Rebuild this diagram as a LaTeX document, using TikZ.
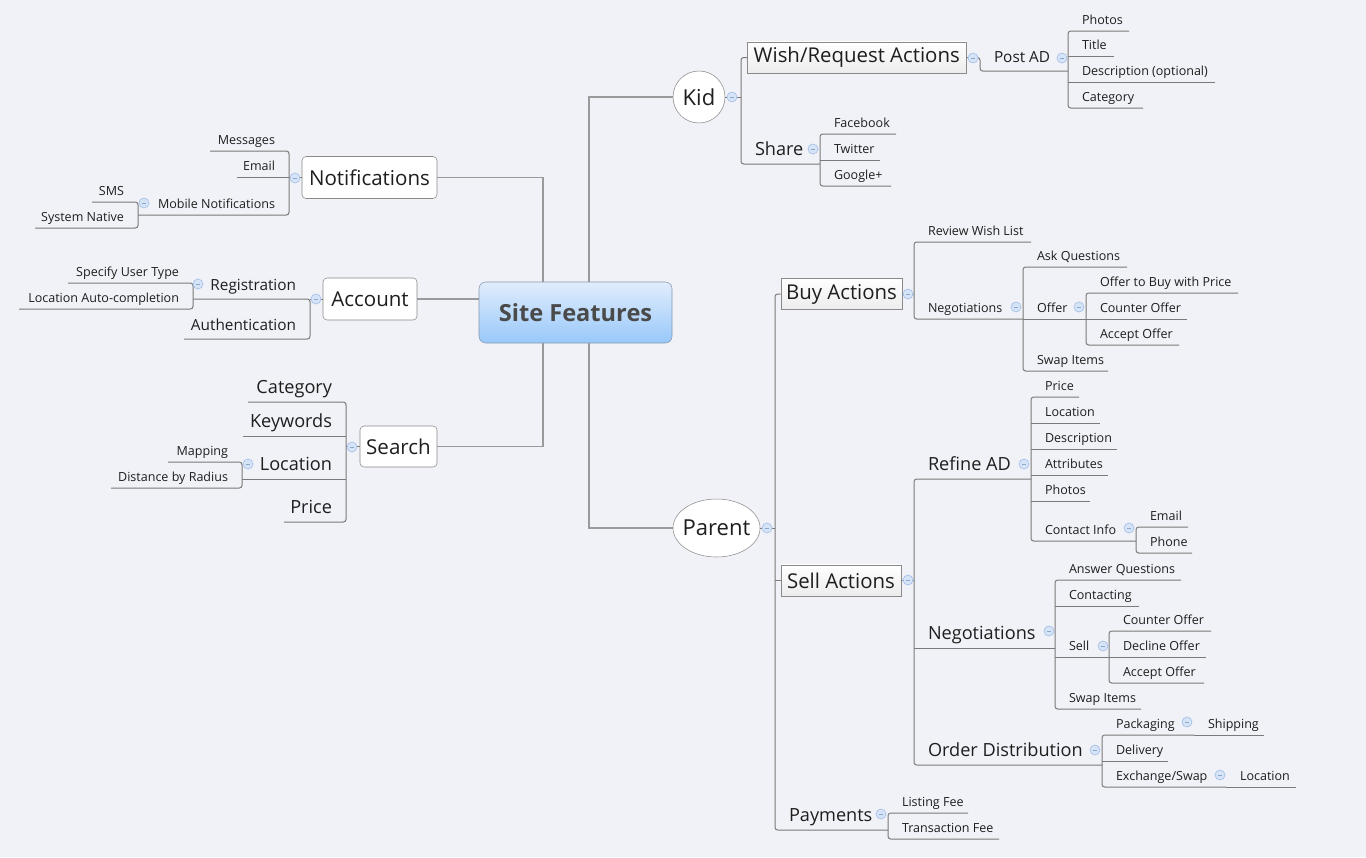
\documentclass[tikz,border=0pt]{standalone}
\usepackage{fontspec}
\setmainfont{Open Sans}
\usetikzlibrary{calc,shapes.geometric}
\definecolor{bgc}{HTML}{F1F2F7}
\definecolor{linec}{HTML}{7A7A7A}
\definecolor{mainc}{HTML}{9A9A9A}
\definecolor{textc}{HTML}{1E1E1E}
\definecolor{boxb}{HTML}{8A8A8A}
\definecolor{cfilla}{HTML}{E1EDFC}
\definecolor{cfillb}{HTML}{98C8FA}
\definecolor{cbord}{HTML}{8497AE}
\definecolor{ctext}{HTML}{4A4A4A}
\definecolor{colf}{HTML}{D6E4F8}
\definecolor{colb}{HTML}{A6BFE6}
\definecolor{colm}{HTML}{8CA6CE}
\definecolor{gboxb}{HTML}{ECECEC}
\tikzset{
 conn/.style={draw=linec,line width=0.75pt,rounded corners=2pt},
 main/.style={draw=mainc,line width=1.1pt},
 centre/.style={draw=cbord,rounded corners=5pt,top color=cfilla,bottom color=cfillb,minimum width=144.75pt,minimum height=45.75pt,inner sep=0pt,font=\fontsize{17.7}{20}\selectfont\bfseries,text=ctext},
 l1box/.style={draw=boxb,fill=white,rounded corners=3pt,inner sep=0pt,font=\fontsize{15.4}{18}\selectfont,text=textc},
 l2box/.style={draw=boxb,top color=white,bottom color=gboxb,inner sep=0pt,minimum height=23.6pt,font=\fontsize{15.3}{18}\selectfont,text=textc},
 kidc/.style={circle,draw=boxb,fill=white,minimum size=39pt,inner sep=0pt,font=\fontsize{16.5}{19}\selectfont,text=textc},
 parente/.style={ellipse,draw=boxb,fill=white,minimum width=65.25pt,minimum height=43.5pt,inner xsep=-3.6pt,inner ysep=0pt,font=\fontsize{16.5}{19}\selectfont,text=textc},
 topic/.style={inner xsep=10.5pt,inner ysep=0pt,outer sep=0pt,text=textc},
 T2/.style={font=\fontsize{13.6}{16}\selectfont,text height=9.5pt,text depth=2.7pt,minimum height=19.8pt},
 T3/.style={font=\fontsize{11.5}{14}\selectfont,text height=8pt,text depth=2.3pt,minimum height=18.75pt},
 T4/.style={font=\fontsize{9.4}{11}\selectfont,text height=6.6pt,text depth=1.9pt,minimum height=14.65pt},
 col/.style={circle,minimum size=7.5pt,inner sep=0pt,fill=colf,draw=colb,line width=0.5pt,
   path picture={\draw[colm,line width=0.6pt] ([xshift=-1.7pt]path picture bounding box.center)--([xshift=1.7pt]path picture bounding box.center);}}
}
\newcommand\topicR[6]{%
  \pgfmathsetlengthmacro\topw{(#3-#2)*0.75-21}%
  \node[topic,#5,anchor=south west] (#1) at (#2,#4) {\hbox to \topw{#6\hss}};}
\newcommand\topicL[6]{%
  \pgfmathsetlengthmacro\topw{(#3-#2)*0.75-21}%
  \node[topic,#5,anchor=south east] (#1) at (#3,#4) {\hbox to \topw{\hss #6}};}

\begin{document}
\begin{tikzpicture}[x=0.75pt,y=-0.75pt]
\fill[bgc] (0,0) rectangle (1366,857);
\useasboundingbox (0,0) rectangle (1366,857);

% main nodes
\node[centre] (sf) at (575.5,312.5) {Site Features};
\node[l1box,minimum width=101.25pt,minimum height=31.5pt] (notif) at (369.5,177.5) {Notifications};
\node[l1box,minimum width=70.5pt,minimum height=31.5pt] (acct) at (370,299) {Account};
\node[l1box,minimum width=57.75pt,minimum height=30.75pt] (search) at (398.5,446.5) {Search};
\node[kidc] (kid) at (699,97) {Kid};
\node[parente] (parent) at (716.5,528) {Parent};
\node[l2box,minimum width=164.25pt] (wish) at (856.75,57.5) {Wish/Request Actions};
\node[l2box,minimum width=90.75pt] (buy) at (841.5,294) {Buy Actions};
\node[l2box,minimum width=90pt] (sellact) at (841,580.5) {Sell Actions};

% Kid branch
\topicR{share}{741}{820}{164}{T2}{Share}
\topicR{fb}{820}{896}{134}{T4}{Facebook}
\topicR{tw}{820}{880}{160}{T4}{Twitter}
\topicR{gp}{820}{891}{186}{T4}{Google+}
\topicR{postad}{980}{1068}{71}{T3}{Post AD}
\topicR{photosa}{1068}{1129}{31}{T4}{Photos}
\topicR{title}{1068}{1114}{56}{T4}{Title}
\topicR{descopt}{1068}{1215}{82}{T4}{Description (optional)}
\topicR{cata}{1068}{1143}{108}{T4}{Category}

% Parent branch
\topicR{pay}{775}{888}{830}{T2}{Payments}
\topicR{lf}{888}{968}{813}{T4}{Listing Fee}
\topicR{tf}{888}{999}{839}{T4}{Transaction Fee}
\topicR{rwl}{914}{1031}{242}{T4}{Review Wish List}
\topicR{nega}{914}{1023}{319}{T4}{Negotiations}
\topicR{askq}{1023}{1127}{267}{T4}{Ask Questions}
\topicR{offer}{1023}{1086}{319}{T4}{Offer}
\topicR{swapa}{1023}{1108}{371}{T4}{Swap Items}
\topicR{otb}{1086}{1238}{293}{T4}{Offer to Buy with Price}
\topicR{coa}{1086}{1187}{319}{T4}{Counter Offer}
\topicR{aoa}{1086}{1179}{345}{T4}{Accept Offer}
\topicR{refine}{914}{1031}{479}{T2}{Refine AD}
\topicR{negb}{914}{1055}{648}{T2}{Negotiations}
\topicR{order}{914}{1102}{765}{T2}{Order Distribution}
\topicR{price}{1031}{1079}{397}{T4}{Price}
\topicR{loca}{1031}{1100}{423}{T4}{Location}
\topicR{desc}{1031}{1117}{449}{T4}{Description}
\topicR{attr}{1031}{1108}{475}{T4}{Attributes}
\topicR{photosb}{1031}{1090}{501}{T4}{Photos}
\topicR{contact}{1031}{1136}{541}{T4}{Contact Info}
\topicR{emailb}{1136}{1188}{527}{T4}{Email}
\topicR{phone}{1136}{1192}{553}{T4}{Phone}
\topicR{ansq}{1055}{1181}{580}{T4}{Answer Questions}
\topicR{contacting}{1055}{1139}{606}{T4}{Contacting}
\topicR{sellsub}{1055}{1109}{657}{T4}{Sell}
\topicR{swapb}{1055}{1141}{709}{T4}{Swap Items}
\topicR{cob}{1109}{1211}{631}{T4}{Counter Offer}
\topicR{dof}{1109}{1206}{657}{T4}{Decline Offer}
\topicR{aob}{1109}{1204}{683}{T4}{Accept Offer}
\topicR{pack}{1102}{1194}{735}{T4}{Packaging}
\topicR{deliv}{1102}{1168}{761}{T4}{Delivery}
\topicR{exch}{1102}{1226}{787}{T4}{Exchange/Swap}
\topicR{ship}{1194}{1264}{735}{T4}{Shipping}
\topicR{locb}{1226}{1296}{787}{T4}{Location}

% Left branches
\topicL{msg}{210}{289}{151}{T4}{Messages}
\topicL{emaila}{237}{289}{177}{T4}{Email}
\topicL{mob}{138}{289}{215}{T4}{Mobile Notifications}
\topicL{sms}{92}{138}{202}{T4}{SMS}
\topicL{sysn}{35}{138}{228}{T4}{System Native}
\topicL{reg}{193}{310}{299}{T3}{Registration}
\topicL{auth}{184}{310}{339}{T3}{Authentication}
\topicL{sut}{68}{193}{283}{T4}{Specify User Type}
\topicL{lac}{19}{193}{309}{T4}{Location Auto-completion}
\topicL{catb}{248}{346}{402}{T2}{Category}
\topicL{kw}{243}{346}{436}{T2}{Keywords}
\topicL{locc}{242}{346}{479}{T2}{Location}
\topicL{priceb}{284}{346}{522}{T2}{Price}
\topicL{map}{168}{242}{462}{T4}{Mapping}
\topicL{dbr}{111}{242}{488}{T4}{Distance by Radius}

% main connectors
\draw[main] ($(sf.north west)!0.332!(sf.north east)$) |- (notif.east);
\draw[main] (sf.west |- acct.east) -- (acct.east);
\draw[main] ($(sf.south west)!0.332!(sf.south east)$) |- (search.east);
\draw[main] ($(sf.north west)!0.57!(sf.north east)$) |- (kid.west);
\draw[main] ($(sf.south west)!0.57!(sf.south east)$) |- (parent.west);

% Kid trees
\draw[conn] (kid.east) -- (kid.east -| share.south west);
\draw[conn] (wish.west) -| (share.south west) -- (share.south east);
\draw[conn] (fb.south east) -- (fb.south west) -- (gp.south west) -- (gp.south east);
\draw[conn] (tw.south west) -- (tw.south east);
\draw[conn] (wish.east) -| (postad.south west) -- (postad.south east);
\draw[conn] (photosa.south east) -- (photosa.south west) -- (cata.south west) -- (cata.south east);
\draw[conn] (title.south west) -- (title.south east);
\draw[conn] (descopt.south west) -- (descopt.south east);

% Parent trees
\draw[conn] (parent.east) -- (parent.east -| pay.south west);
\draw[conn] (buy.west) -| (pay.south west) -- (pay.south east);
\draw[conn] (sellact.west) -- (sellact.west -| pay.south west);
\draw[conn] (lf.south east) -- (lf.south west) -- (tf.south west) -- (tf.south east);
\draw[conn] (buy.east) -- (buy.east -| rwl.south west);
\draw[conn] (rwl.south east) -- (rwl.south west) -- (nega.south west) -- (nega.south east);
\draw[conn] (askq.south east) -- (askq.south west) -- (swapa.south west) -- (swapa.south east);
\draw[conn] (offer.south west) -- (offer.south east);
\draw[conn] (otb.south east) -- (otb.south west) -- (aoa.south west) -- (aoa.south east);
\draw[conn] (coa.south west) -- (coa.south east);
\draw[conn] (sellact.east) -- (sellact.east -| refine.south west);
\draw[conn] (refine.south east) -- (refine.south west) -- (order.south west) -- (order.south east);
\draw[conn] (negb.south west) -- (negb.south east);
\draw[conn] (price.south east) -- (price.south west) -- (contact.south west) -- (contact.south east);
\foreach \n in {loca,desc,attr,photosb} {\draw[conn] (\n.south west) -- (\n.south east);}
\draw[conn] (emailb.south east) -- (emailb.south west) -- (phone.south west) -- (phone.south east);
\draw[conn] (ansq.south east) -- (ansq.south west) -- (swapb.south west) -- (swapb.south east);
\draw[conn] (contacting.south west) -- (contacting.south east);
\draw[conn] (sellsub.south west) -- (sellsub.south east);
\draw[conn] (cob.south east) -- (cob.south west) -- (aob.south west) -- (aob.south east);
\draw[conn] (dof.south west) -- (dof.south east);
\draw[conn] (pack.south east) -- (pack.south west) -- (exch.south west) -- (exch.south east);
\draw[conn] (deliv.south west) -- (deliv.south east);
\draw[conn] (ship.south west) -- (ship.south east);
\draw[conn] (locb.south west) -- (locb.south east);

% Left trees
\draw[conn] (notif.west) -- (notif.west -| msg.south east);
\draw[conn] (msg.south west) -- (msg.south east) -- (mob.south east) -- (mob.south west);
\draw[conn] (emaila.south west) -- (emaila.south east);
\draw[conn] (sms.south west) -- (sms.south east) -- (sysn.south east) -- (sysn.south west);
\draw[conn] (acct.west) -- (acct.west -| reg.south east);
\draw[conn] (reg.south west) -- (reg.south east) -- (auth.south east) -- (auth.south west);
\draw[conn] (sut.south west) -- (sut.south east) -- (lac.south east) -- (lac.south west);
\draw[conn] (search.west) -- (search.west -| catb.south east);
\draw[conn] (catb.south west) -- (catb.south east) -- (priceb.south east) -- (priceb.south west);
\draw[conn] (kw.south west) -- (kw.south east);
\draw[conn] (locc.south west) -- (locc.south east);
\draw[conn] (map.south west) -- (map.south east) -- (dbr.south east) -- (dbr.south west);

% collapse markers
\node[col] (ckid) at (732,97) {};
\node[col] (cwish) at (973,58) {};
\node[col] (cpostad) at (1062,58) {};
\node[col] (cshare) at (813,149) {};
\node[col] (cparent) at (767,528) {};
\node[col] (cbuy) at (908,294) {};
\node[col] (cnega) at (1016,307) {};
\node[col] (coffer) at (1079,307) {};
\node[col] (csell) at (908,580) {};
\node[col] (crefine) at (1024,464) {};
\node[col] (ccontact) at (1129,528) {};
\node[col] (cnegb) at (1049,631) {};
\node[col] (csellsub) at (1103,646) {};
\node[col] (corder) at (1095,750) {};
\node[col] (cpack) at (1187,722) {};
\node[col] (cexch) at (1220,775) {};
\node[col] (cpay) at (881,814) {};
\node[col] (cnotif) at (295,178) {};
\node[col] (cmob) at (144,203) {};
\node[col] (cacct) at (316,299) {};
\node[col] (creg) at (198,284) {};
\node[col] (csearch) at (352,447) {};
\node[col] (clocc) at (248,464) {};
\end{tikzpicture}
\end{document}
